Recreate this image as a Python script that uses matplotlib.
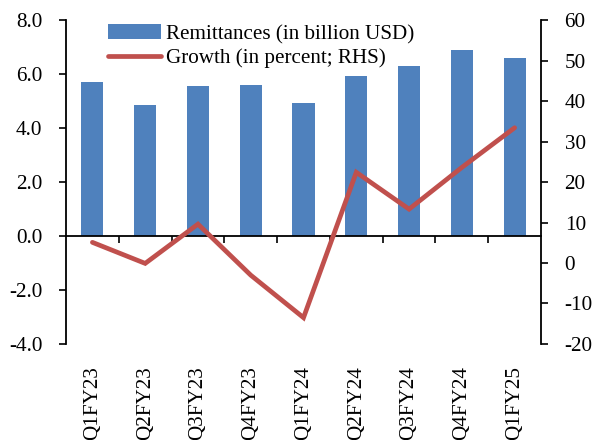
import matplotlib
matplotlib.use("Agg")
import matplotlib.pyplot as plt
import numpy as np

categories = ["Q1FY23", "Q2FY23", "Q3FY23", "Q4FY23", "Q1FY24",
              "Q2FY24", "Q3FY24", "Q4FY24", "Q1FY25"]
remittances = [5.71, 4.85, 5.56, 5.59, 4.93, 5.93, 6.30, 6.89, 6.59]
growth = [5.1, -0.1, 9.6, -3.0, -13.5, 22.4, 13.3, 23.6, 33.4]
left_ticks = [-4.0, -2.0, 0.0, 2.0, 4.0, 6.0, 8.0]
right_ticks = [-20, -10, 0, 10, 20, 30, 40, 50, 60]

plt.rcParams['font.family'] = ['Liberation Serif', 'DejaVu Serif']
FS = 15.2
bar_color = "#4F81BD"
line_color = "#C0504D"

fig = plt.figure(figsize=(5.98, 4.40), dpi=100)
ax = fig.add_axes([0.1104, 0.2182, 0.7943, 0.7363])
x = np.arange(len(categories))

bars = ax.bar(x, remittances, width=0.42, color=bar_color,
              label="Remittances (in billion USD)", zorder=2)
ax.set_xlim(-0.5, len(categories) - 0.5)
ax.set_ylim(left_ticks[0], left_ticks[-1])
ax.set_yticks(left_ticks, [f"{v:.1f}" for v in left_ticks], fontsize=FS)
ax.tick_params(axis='y', direction='out', length=5, width=1.2, pad=12)

for s in ['top', 'right']:
    ax.spines[s].set_visible(False)
ax.spines['left'].set_linewidth(1.3)
ax.spines['bottom'].set_position(('data', 0))
ax.spines['bottom'].set_linewidth(1.3)
ax.spines['bottom'].set_zorder(5)
ax.set_xticks(np.arange(0.5, len(categories) - 0.5, 1.0))
ax.set_xticklabels([])
ax.tick_params(axis='x', direction='out', length=5, width=1.2)

sec = ax.secondary_xaxis(0.0)
sec.set_xticks(x, categories, rotation=90, fontsize=FS)
sec.tick_params(length=0, pad=16)
sec.spines['bottom'].set_visible(False)

ax2 = ax.twinx()
line, = ax2.plot(x, growth, color=line_color, linewidth=3.4,
                 solid_capstyle='round', solid_joinstyle='miter',
                 label="Growth (in percent; RHS)")
ax2.set_ylim(right_ticks[0], right_ticks[-1])
ax2.set_yticks(right_ticks, [str(v) for v in right_ticks], fontsize=FS)
ax2.tick_params(axis='y', direction='out', length=5, width=1.2, pad=12)
for s in ['top', 'left', 'bottom']:
    ax2.spines[s].set_visible(False)
ax2.spines['right'].set_linewidth(1.3)

leg = ax2.legend([bars, line], [bars.get_label(), line.get_label()],
                 loc='upper left', bbox_to_anchor=(0.08, 1.0),
                 frameon=False, fontsize=FS, handlelength=2.5,
                 handletextpad=0.25, borderaxespad=0, borderpad=0.2,
                 labelspacing=0.2)

fig.savefig("out.png", dpi=100)
